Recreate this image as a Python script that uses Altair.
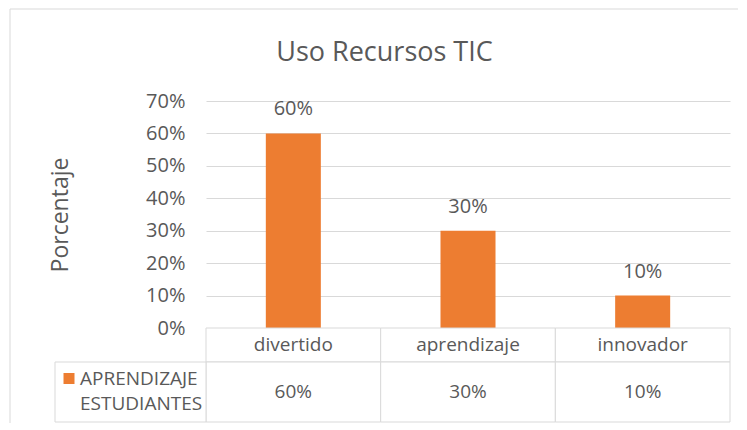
import altair as alt
import pandas as pd

# ---- data ----
categories = ["divertido", "aprendizaje", "innovador"]
values = [0.60, 0.30, 0.10]
series_name = "APRENDIZAJE ESTUDIANTES"
y_tick_values = [0.0, 0.1, 0.2, 0.3, 0.4, 0.5, 0.6, 0.7]
chart_title = "Uso Recursos TIC"
y_title = "Porcentaje"

df = pd.DataFrame({"categoria": categories, "valor": values})
legend_df = pd.DataFrame({"serie": [series_name]})

# ---- style ----
ORANGE = "#ED7D31"
GRID = "#D9D9D9"
TEXT = "#595959"
FONT = "Open Sans"
W = 524
NO_STROKE = alt.ViewBackground(stroke=None)

xscale = alt.Scale(domain=categories, paddingInner=0, paddingOuter=0)
x_enc = alt.X("categoria:N", scale=xscale, axis=None, sort=categories)

y_enc = alt.Y(
    "valor:Q",
    scale=alt.Scale(domain=[0, 0.7], nice=False),
    axis=alt.Axis(
        values=y_tick_values,
        format=".0%",
        title=y_title,
        titleFontSize=23,
        titleColor=TEXT,
        titleFontWeight="normal",
        titlePadding=73,
        labelFontSize=20,
        labelColor=TEXT,
        labelPadding=21,
        labelOverlap=False,
        ticks=False,
        domain=False,
        grid=True,
        gridColor=GRID,
        gridWidth=1,
    ),
)

bars = alt.Chart(df).mark_bar(color=ORANGE, width=alt.RelativeBandSize(0.315)).encode(
    x=x_enc, y=y_enc
)
bar_labels = alt.Chart(df).mark_text(
    baseline="alphabetic", dy=-18, fontSize=20, color=TEXT
).encode(x=x_enc, y=y_enc, text=alt.Text("valor:Q", format=".0%"))

top = alt.layer(bars, bar_labels).properties(
    width=W,
    height=227,
    view=NO_STROKE,
    title=alt.TitleParams(
        chart_title,
        fontSize=27,
        color=TEXT,
        fontWeight="normal",
        anchor="middle",
        frame="group",
        dx=-83.5,
        offset=24,
    ),
)

# ---- data table: row 1 (category names) ----
row1 = alt.layer(
    alt.Chart(df).mark_rect(fill="white", stroke=GRID, strokeWidth=1).encode(x=x_enc),
    alt.Chart(df).mark_text(fontSize=19, color=TEXT, baseline="middle").encode(
        x=x_enc, text="categoria:N"
    ),
).properties(width=W, height=34, view=NO_STROKE)

# ---- data table: row 2 (series values + legend key) ----
frame_left = alt.Chart(legend_df).mark_rule(color=GRID, strokeWidth=1).encode(
    x=alt.value(-196), y=alt.value(-353), y2=alt.value(61)
)
frame_top = alt.Chart(legend_df).mark_rule(color=GRID, strokeWidth=1).encode(
    x=alt.value(-196), x2=alt.value(532), y=alt.value(-353)
)
row2 = alt.layer(
    frame_left,
    frame_top,
    alt.Chart(df).mark_rect(fill="white", stroke=GRID, strokeWidth=1).encode(x=x_enc),
    alt.Chart(legend_df).mark_rect(fill="white", stroke=GRID, strokeWidth=1).encode(
        x=alt.value(-151), x2=alt.value(0), y=alt.value(0), y2=alt.value(60)
    ),
    alt.Chart(legend_df).mark_square(color=ORANGE, size=121, opacity=1).encode(
        x=alt.value(-137), y=alt.value(16.5)
    ),
    alt.Chart(legend_df).mark_text(
        align="left", baseline="middle", fontSize=19, color=TEXT, lineBreak=" ", lineHeight=25
    ).encode(x=alt.value(-126), y=alt.value(17), text="serie:N"),
    alt.Chart(df).mark_text(fontSize=19, color=TEXT, baseline="middle").encode(
        x=x_enc, y=alt.value(29.5), text=alt.Text("valor:Q", format=".0%")
    ),
).properties(width=W, height=60, view=NO_STROKE)

chart = (
    alt.vconcat(top, row1, row2, spacing=0, bounds="flush")
    .properties(padding={"left": 1, "top": 0, "right": 0, "bottom": 0})
    .configure(font=FONT)
    .configure_view(stroke=None)
)

chart.save("out.html", embed_options={"renderer": "svg", "actions": False})
